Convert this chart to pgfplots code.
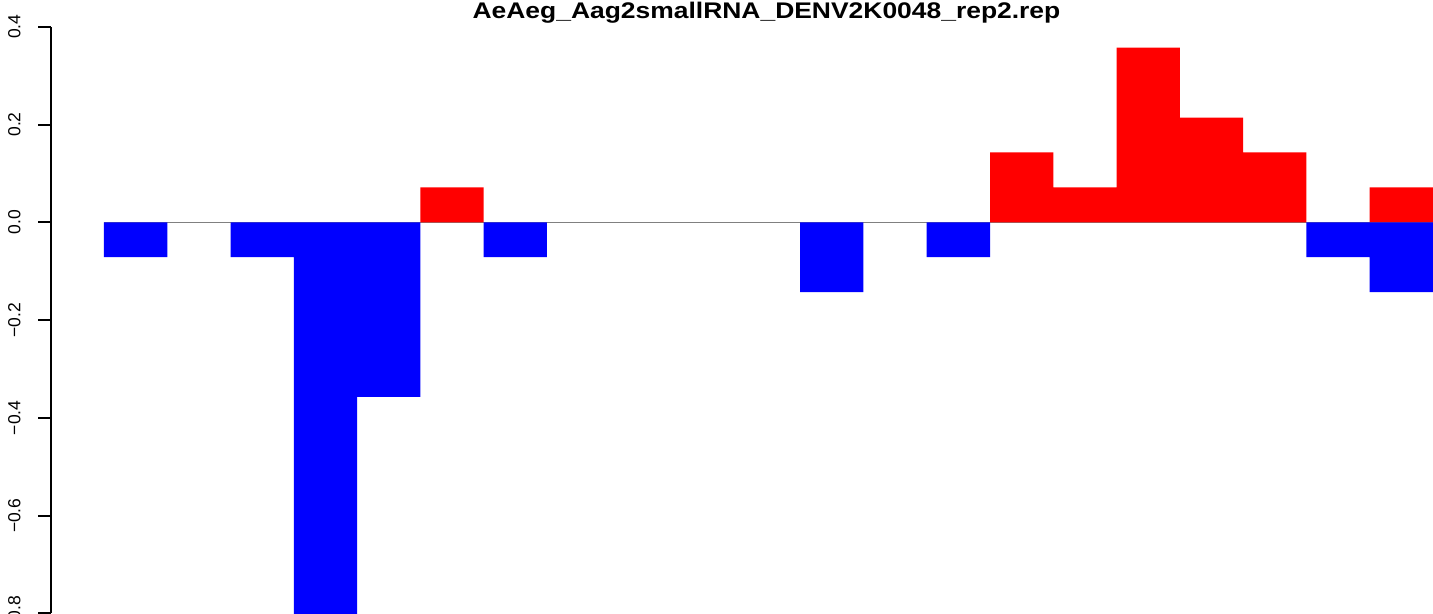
\documentclass[border=0pt]{standalone}
\usepackage{fontspec}
\setmainfont{Liberation Sans}
\usepackage{pgfplots}
\pgfplotsset{compat=1.18}
\definecolor{rred}{RGB}{255,0,0}
\definecolor{rblue}{RGB}{0,0,255}
\begin{document}
\begin{tikzpicture}
\begin{axis}[
  at={(25.25pt,0.25pt)}, anchor=south west,
  scale only axis,
  width=691.25pt, height=293.4pt,
  xmin=-0.845, xmax=21,
  ymin=-0.8, ymax=0.4,
  axis x line=none,
  axis y line*=left,
  y axis line style={-, black, line width=1pt},
  xtick=\empty,
  ytick={-0.8,-0.6,-0.4,-0.2,0,0.2,0.4},
  yticklabels={−0.8,−0.6,−0.4,−0.2,0.0,0.2,0.4},
  tick align=outside,
  ytick style={draw=black, line width=1pt},
  major tick length=6pt,
  yticklabel style={rotate=90, anchor=base, inner sep=0pt, font=\fontsize{8.75}{10}\selectfont, yshift=9pt},
  clip mode=individual,
]
\addplot[gray, line width=0.75pt] coordinates {(0,0) (21,0)};
\addplot[ybar, bar width=1, bar shift=0pt, fill=rred, draw=none] coordinates {
(5.5,0.0714) (14.5,0.1429) (15.5,0.0714) (16.5,0.3571) (17.5,0.2143) (18.5,0.1429) (20.5,0.0714)
};
\addplot[ybar, bar width=1, bar shift=0pt, fill=rblue, draw=none] coordinates {
(0.5,-0.0714) (2.5,-0.0714) (3.5,-0.8571) (4.5,-0.3571) (6.5,-0.0714) (11.5,-0.1429) (13.5,-0.0714) (19.5,-0.0714) (20.5,-0.1429)
};
\pgfplotsinvokeforeach{-0.8,-0.6,-0.4,-0.2,0,0.2,0.4}{
  \draw[black, line width=1pt] (axis cs:-0.845,#1) -- ++(-6pt,0pt);
}
\end{axis}
\node[anchor=base, inner sep=0pt] at (383.25pt,297.5pt) {\scalebox{1.17}[1]{\bfseries\fontsize{11.3}{13}\selectfont AeAeg\_Aag2smallRNA\_DENV2K0048\_rep2.rep}};
\pgfresetboundingbox
\useasboundingbox (0pt,0pt) rectangle (716.5pt,307pt);
\end{tikzpicture}
\end{document}
